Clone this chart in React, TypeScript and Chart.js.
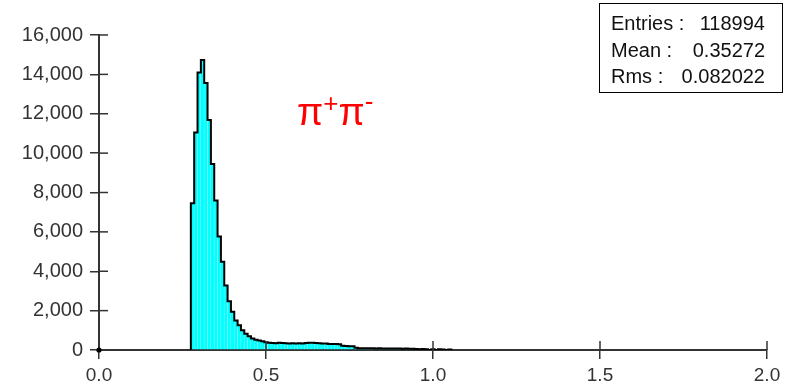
import React, { useEffect, useRef } from "react";
import { Chart, registerables } from "chart.js";

Chart.register(...registerables);

// Histogram bins (centres, width 0.01) and counts
const binCenters = [
  0.28, 0.29, 0.30, 0.31, 0.32, 0.33, 0.34, 0.35, 0.36, 0.37,
  0.38, 0.39, 0.40, 0.41, 0.42, 0.43, 0.44, 0.45, 0.46, 0.47,
  0.48, 0.49, 0.50, 0.51, 0.52, 0.53, 0.54, 0.55, 0.56, 0.57,
  0.58, 0.59, 0.60, 0.61, 0.62, 0.63, 0.64, 0.65, 0.66, 0.67,
  0.68, 0.69, 0.70, 0.71, 0.72, 0.73, 0.74, 0.75, 0.76, 0.77,
  0.78, 0.79, 0.80, 0.81, 0.82, 0.83, 0.84, 0.85, 0.86, 0.87,
  0.88, 0.89, 0.90, 0.91, 0.92, 0.93, 0.94, 0.95, 0.96, 0.97,
  0.98, 0.99, 1.00, 1.01, 1.02, 1.03, 1.04, 1.05,
];
const binCounts = [
  7450, 11050, 14100, 14730, 13560, 11680, 9450, 7600, 5760, 4480,
  3280, 2480, 1940, 1500, 1260, 1000, 830, 700, 590, 520,
  480, 450, 400, 370, 350, 340, 370, 360, 340, 330,
  340, 330, 340, 335, 360, 370, 365, 360, 340, 330,
  335, 300, 305, 300, 290, 210, 200, 195, 190, 110,
  95, 90, 95, 85, 90, 80, 85, 80, 75, 80,
  70, 75, 70, 65, 70, 60, 65, 45, 40, 45,
  40, 0, 40, 0, 35, 30, 0, 30,
];
const binWidth = 0.01;

const xMin = 0;
const xMax = 2;
const xStep = 0.5;
const yMin = 0;
const yMax = 16000;
const yStep = 2000;

const statLabels = ["Entries :", "Mean :", "Rms :"];
const statValues = ["118994", "0.35272", "0.082022"];

const AXIS = "#333333";
const TICK_FONT = "'Liberation Sans', Arial, sans-serif";

const innerTicks = {
  id: "innerTicks",
  afterDraw(chart: any) {
    const { ctx, chartArea, scales } = chart;
    const xs = scales.x;
    const ys = scales.y;
    ctx.save();
    ctx.strokeStyle = AXIS;
    ctx.lineWidth = 1.5;
    ys.ticks.forEach((t: any) => {
      if (t.value === 0) return;
      const py = ys.getPixelForValue(t.value);
      ctx.beginPath();
      ctx.moveTo(chartArea.left, py);
      ctx.lineTo(chartArea.left + 9, py);
      ctx.stroke();
    });
    xs.ticks.forEach((t: any) => {
      if (t.value === 0) return;
      const px = xs.getPixelForValue(t.value);
      ctx.beginPath();
      ctx.moveTo(px, chartArea.bottom);
      ctx.lineTo(px, chartArea.bottom - 9);
      ctx.stroke();
    });
    ctx.fillStyle = "#000";
    ctx.beginPath();
    ctx.arc(xs.getPixelForValue(0), ys.getPixelForValue(0), 2.6, 0, Math.PI * 2);
    ctx.fill();
    ctx.restore();
  },
};

export default function App() {
  const ref = useRef<HTMLCanvasElement>(null);

  useEffect(() => {
    if (!ref.current) return;
    const bars = binCenters.map((x, i) => ({ x, y: binCounts[i] }));
    const outline: { x: number; y: number }[] = [
      { x: binCenters[0] - binWidth / 2, y: 0 },
    ];
    binCenters.forEach((c, i) => outline.push({ x: c - binWidth / 2, y: binCounts[i] }));
    outline.push({ x: binCenters[binCenters.length - 1] + binWidth / 2, y: 0 });

    const chart = new Chart(ref.current, {
      type: "bar",
      data: {
        datasets: [
          {
            type: "line",
            data: outline,
            borderColor: "#000000",
            borderWidth: 2,
            pointRadius: 0,
            stepped: "before",
            fill: false,
            order: 0,
          } as any,
          {
            type: "bar",
            data: bars,
            backgroundColor: "#00ffff",
            borderColor: "#a8ffff",
            borderWidth: { left: 0.6, right: 0, top: 0, bottom: 0 },
            borderSkipped: false,
            inflateAmount: 0.5,
            barPercentage: 1,
            categoryPercentage: 1,
            order: 1,
          } as any,
        ],
      },
      options: {
        responsive: false,
        animation: false,
        events: [],
        layout: { padding: { left: 0, right: 20, top: 35, bottom: 0 } },
        plugins: { legend: { display: false }, tooltip: { enabled: false } },
        scales: {
          x: {
            type: "linear",
            min: xMin,
            max: xMax,
            offset: false,
            grid: {
              drawOnChartArea: false,
              drawTicks: true,
              tickLength: 9,
              color: AXIS,
              lineWidth: 1.5,
              offset: false,
            },
            border: { display: true, color: AXIS, width: 2 },
            ticks: {
              stepSize: xStep,
              color: AXIS,
              padding: 5,
              font: { family: TICK_FONT, size: 19 },
              maxRotation: 0,
              callback: (v: any) => Number(v).toFixed(1),
            },
            afterFit: (s: any) => {
              s.height = 37;
            },
          },
          y: {
            type: "linear",
            min: yMin,
            max: yMax,
            grid: {
              drawOnChartArea: false,
              drawTicks: true,
              tickLength: 9,
              color: AXIS,
              lineWidth: 1.5,
            },
            border: { display: true, color: AXIS, width: 2 },
            ticks: {
              stepSize: yStep,
              color: AXIS,
              padding: 7,
              font: { family: TICK_FONT, size: 20 },
            },
            afterFit: (s: any) => {
              s.width = 99;
            },
          },
        },
      },
      plugins: [innerTicks],
    });
    return () => chart.destroy();
  }, []);

  return (
    <div style={{ position: "absolute", left: 0, top: 0, width: 787, height: 387, background: "#fff" }}>
      <canvas ref={ref} width={787} height={387} style={{ position: "absolute", left: 0, top: 0 }} />
      <div
        style={{
          position: "absolute",
          left: 297,
          top: 93,
          fontFamily: TICK_FONT,
          fontSize: 38,
          lineHeight: 1,
          color: "#ff0000",
          whiteSpace: "nowrap",
        }}
      >
        π<span style={{ fontSize: 26, position: "relative", top: -13 }}>+</span>π
        <span style={{ fontSize: 26, position: "relative", top: -15 }}>-</span>
      </div>
      <div
        style={{
          position: "absolute",
          left: 599,
          top: 3,
          width: 184,
          height: 90,
          boxSizing: "border-box",
          border: "1px solid #000",
          padding: "6px 17px 0 11px",
          fontFamily: TICK_FONT,
          fontSize: 20,
          lineHeight: "26.7px",
          color: "#111",
        }}
      >
        {statLabels.map((l, i) => (
          <div key={l} style={{ display: "flex", justifyContent: "space-between", whiteSpace: "pre" }}>
            <span>{l}</span>
            <span>{statValues[i]}</span>
          </div>
        ))}
      </div>
    </div>
  );
}
